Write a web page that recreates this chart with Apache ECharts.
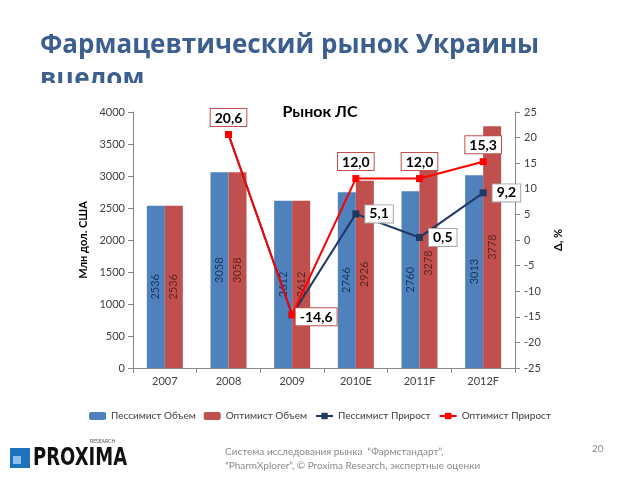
<!DOCTYPE html>
<html><head><meta charset="utf-8">
<script src="https://cdn.jsdelivr.net/npm/echarts@6/dist/echarts.min.js"></script>
<style>html,body{margin:0;padding:0;background:#fff}#c{width:640px;height:480px}</style>
</head><body><div id="c"></div>
<script>
const categories = ['2007', '2008', '2009', '2010E', '2011F', '2012F'];
const pessVolume = [2536, 3058, 2612, 2746, 2760, 3013];
const optVolume = [2536, 3058, 2612, 2926, 3278, 3778];
const pessGrowth = [null, 20.6, -14.6, 5.1, 0.5, 9.2];
const optGrowth = [null, 20.6, -14.6, 12.0, 12.0, 15.3];
const seriesNames = ['Пессимист Объем', 'Оптимист Объем', 'Пессимист Прирост', 'Оптимист Прирост'];
const leftTicks = {min: 0, max: 4000, interval: 500};
const rightTicks = {min: -25, max: 25, interval: 5};

const fmt = v => v.toFixed(1).replace('.', ',');
const F = 'Lato, "Open Sans", sans-serif';

const chart = echarts.init(document.getElementById('c'));
const barLabel = color => ({
  show: true, position: 'inside', rotate: 90, color: color,
  fontSize: 11, fontFamily: F
});
const lineLabelBase = {
  show: true, fontSize: 14, fontWeight: 'bold', fontFamily: F, color: '#000',
  backgroundColor: '#fff', borderWidth: 1, padding: [2, 4, 1, 4],
  formatter: p => fmt(p.value)
};
const pessData = pessGrowth.map((v, i) => ({value: v, label: {show: i >= 3}}));

chart.setOption({
  animation: false,
  textStyle: {fontFamily: F},
  grid: {left: 133, right: 125, top: 112, bottom: 112},
  legend: {
    data: seriesNames, left: 'center', top: 406, itemGap: 8,
    itemWidth: 17, itemHeight: 8,
    textStyle: {fontSize: 10, color: '#404040', fontFamily: F}
  },
  graphic: [
    {type: 'text', left: 40, top: 29, z: 1, style: {text: 'Фармацевтический рынок Украины\nвцелом', fill: '#3D5F8F', font: 'bold 26px "Open Sans", sans-serif', lineHeight: 34}},
    {type: 'rect', left: 0, top: 83, z: 2, shape: {width: 640, height: 20}, style: {fill: '#fff'}},
    {type: 'text', left: 'center', top: 104, z: 3, style: {text: 'Рынок ЛС', fill: '#000', font: 'bold 16px ' + F}},
    {type: 'rect', left: 10, top: 448, shape: {width: 20, height: 20}, style: {fill: '#1E73BE'}},
    {type: 'rect', left: 13, top: 456, shape: {width: 8, height: 8}, style: {fill: '#8CC0EA'}},
    {type: 'text', left: 33, top: 446, scaleX: 0.72, style: {text: 'PROXIMA', fill: '#111', font: 'bold 25px "DejaVu Sans", sans-serif'}},
    {type: 'text', left: 90, top: 439, style: {text: 'RESEARCH', fill: '#555', font: '5px ' + F}},
    {type: 'text', left: 225, top: 445, style: {text: 'Система исследования рынка  “Фармстандарт”,\n“PharmXplorer”, © Proxima Research, экспертные оценки', fill: '#8a8a8a', font: '10px ' + F, lineHeight: 14}},
    {type: 'text', left: 592, top: 444, style: {text: '20', fill: '#8a8a8a', font: '10px ' + F}}
  ],
  xAxis: {
    type: 'category', data: categories,
    axisLine: {lineStyle: {color: '#868686'}},
    axisTick: {show: true, alignWithLabel: false, length: 5, lineStyle: {color: '#868686'}},
    axisLabel: {fontSize: 11, color: '#404040', margin: 8}
  },
  yAxis: [
    Object.assign({
      type: 'value', position: 'left',
      name: 'Млн дол. США', nameLocation: 'middle', nameGap: 33,
      nameTextStyle: {fontSize: 11, fontWeight: 'bold', color: '#000'},
      splitLine: {show: false},
      axisLine: {show: true, lineStyle: {color: '#868686'}},
      axisTick: {show: true, length: 5, lineStyle: {color: '#868686'}},
      axisLabel: {fontSize: 11, color: '#404040', margin: 8, formatter: v => String(v)}
    }, leftTicks),
    Object.assign({
      type: 'value', position: 'right',
      name: 'Δ, %', nameLocation: 'middle', nameGap: 38,
      nameTextStyle: {fontSize: 11, fontWeight: 'bold', color: '#000'},
      splitLine: {show: false},
      axisLine: {show: true, lineStyle: {color: '#868686'}},
      axisTick: {show: true, length: 5, lineStyle: {color: '#868686'}},
      axisLabel: {fontSize: 11, color: '#404040', margin: 9, formatter: v => String(v)}
    }, rightTicks)
  ],
  series: [
    {name: seriesNames[0], type: 'bar', data: pessVolume, barWidth: 18, barGap: '0%',
      itemStyle: {color: '#4F81BD'}, label: barLabel('#17375E')},
    {name: seriesNames[1], type: 'bar', data: optVolume, barWidth: 18, barGap: '0%',
      itemStyle: {color: '#C0504D'}, label: barLabel('#632523')},
    {name: seriesNames[2], type: 'line', yAxisIndex: 1, data: pessData,
      symbol: 'rect', symbolSize: 7, z: 4,
      lineStyle: {color: '#1F3864', width: 2}, itemStyle: {color: '#1F3864'},
      label: Object.assign({}, lineLabelBase, {position: 'right', distance: 6, borderColor: '#A6A6A6'})},
    {name: seriesNames[3], type: 'line', yAxisIndex: 1, data: optGrowth,
      symbol: 'rect', symbolSize: 7, z: 5,
      lineStyle: {color: '#FF0000', width: 2}, itemStyle: {color: '#FF0000'},
      label: Object.assign({}, lineLabelBase, {position: 'top', distance: 5, borderColor: '#C0504D'}),
      labelLayout: p => p.dataIndex === 2 ? {dx: 24, dy: 19} : {}}
  ]
});
</script></body></html>
